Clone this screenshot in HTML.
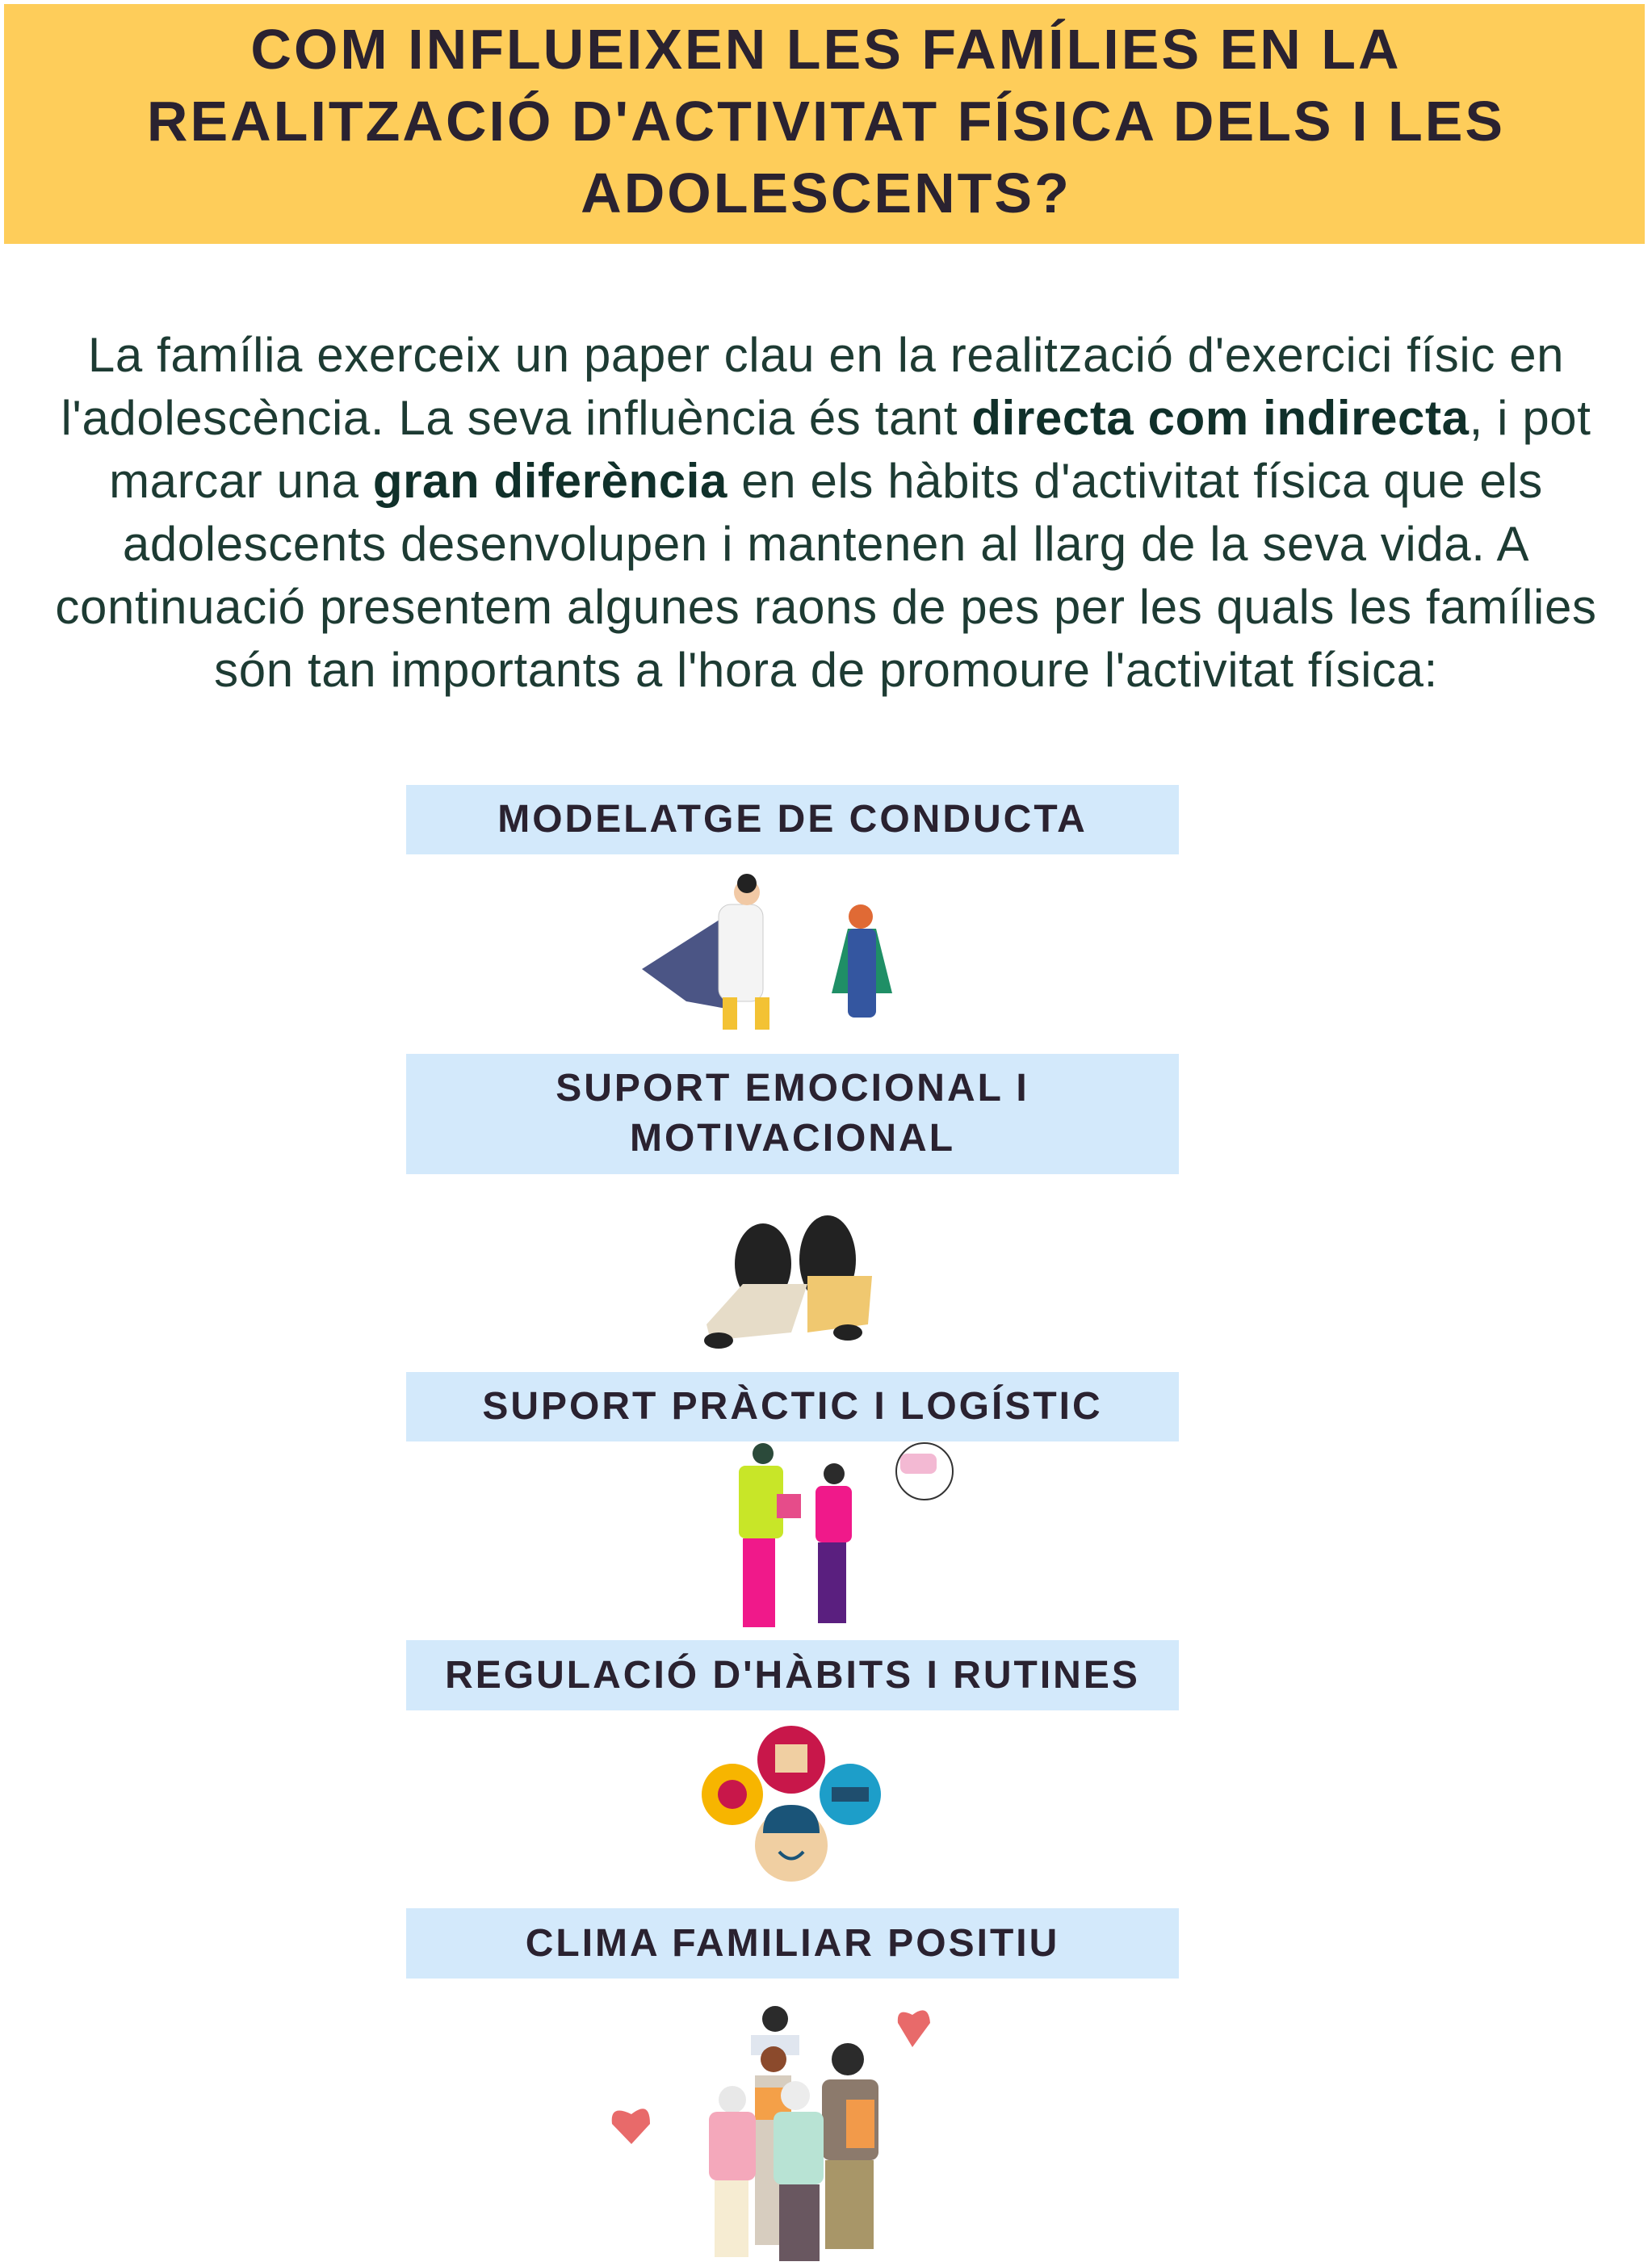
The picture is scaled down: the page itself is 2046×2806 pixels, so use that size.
<!DOCTYPE html>
<html><head><meta charset="utf-8"><style>
html,body{margin:0;padding:0;background:#fff;}
body{width:2046px;height:2806px;position:relative;overflow:hidden;font-family:"Liberation Sans",sans-serif;}
.hdr{position:absolute;left:5px;top:5px;width:2032px;height:297px;background:#fecd5a;}
.t{position:absolute;left:0;width:2046px;text-align:center;font-weight:bold;font-size:70px;color:#2a2230;letter-spacing:3px;}
.p{position:absolute;left:0;width:2046px;text-align:center;font-size:60px;color:#1d3b33;line-height:78px;top:401px;letter-spacing:0.6px;}
.p b{color:#10302a;}
.box{position:absolute;left:503px;width:957px;background:#d3e9fb;color:#2a2230;font-weight:bold;font-size:48px;text-align:center;letter-spacing:3px;}
svg{position:absolute;left:0;top:0;}
</style></head><body>
<div class="hdr"></div>
<div class="t" style="top:21px">COM INFLUEIXEN LES FAMÍLIES EN LA</div>
<div class="t" style="top:110px">REALITZACIÓ D'ACTIVITAT FÍSICA DELS I LES</div>
<div class="t" style="top:199px">ADOLESCENTS?</div>
<div class="p">La família exerceix un paper clau en la realització d'exercici físic en<br>l'adolescència. La seva influència és tant <b>directa com indirecta</b>, i pot<br>marcar una <b>gran diferència</b> en els hàbits d'activitat física que els<br>adolescents desenvolupen i mantenen al llarg de la seva vida. A<br>continuació presentem algunes raons de pes per les quals les famílies<br>són tan importants a l'hora de promoure l'activitat física:</div>
<div class="box" style="top:972px;height:86px;line-height:86px">MODELATGE DE CONDUCTA</div>
<div class="box" style="top:1305px;height:149px;line-height:62px;padding-top:12px;box-sizing:border-box">SUPORT EMOCIONAL I<br>MOTIVACIONAL</div>
<div class="box" style="top:1699px;height:86px;line-height:86px">SUPORT PRÀCTIC I LOGÍSTIC</div>
<div class="box" style="top:2031px;height:87px;line-height:87px">REGULACIÓ D'HÀBITS I RUTINES</div>
<div class="box" style="top:2363px;height:87px;line-height:87px">CLIMA FAMILIAR POSITIU</div>
<svg width="2046" height="2806">
<path d="M905 1130 L795 1200 L850 1240 L905 1250Z" fill="#4b5585"/>
<rect x="890" y="1120" width="55" height="120" rx="15" fill="#f4f4f4" stroke="#ccc"/>
<circle cx="925" cy="1105" r="16" fill="#f1c9a5"/><circle cx="925" cy="1094" r="12" fill="#222"/>
<rect x="895" y="1235" width="18" height="40" fill="#f3c234"/><rect x="935" y="1235" width="18" height="40" fill="#f3c234"/>
<path d="M1050 1150 L1030 1230 L1105 1230 L1085 1150Z" fill="#1f8f66"/>
<rect x="1050" y="1150" width="35" height="110" rx="8" fill="#3456a0"/>
<circle cx="1066" cy="1135" r="15" fill="#e06a35"/>
<ellipse cx="945" cy="1565" rx="35" ry="50" fill="#222"/><ellipse cx="1025" cy="1560" rx="35" ry="55" fill="#222"/>
<path d="M920 1590 L1000 1590 L980 1650 L880 1660 L875 1640Z" fill="#e6dcc8"/>
<path d="M1000 1580 L1080 1580 L1075 1640 L1000 1650Z" fill="#f0c870"/>
<ellipse cx="890" cy="1660" rx="18" ry="10" fill="#222"/><ellipse cx="1050" cy="1650" rx="18" ry="10" fill="#222"/>
<circle cx="945" cy="1800" r="13" fill="#2b4a3a"/>
<rect x="915" y="1815" width="55" height="90" rx="8" fill="#c8e628"/>
<rect x="920" y="1905" width="40" height="110" fill="#f0198a"/>
<circle cx="1033" cy="1825" r="13" fill="#2b2b2b"/>
<rect x="1010" y="1840" width="45" height="70" rx="8" fill="#f0198a"/>
<rect x="1013" y="1910" width="35" height="100" fill="#5a1f7f"/>
<rect x="962" y="1850" width="30" height="30" fill="#e64c8a"/>
<ellipse cx="1145" cy="1822" rx="35" ry="35" fill="#fff" stroke="#333" stroke-width="2"/>
<rect x="1115" y="1800" width="45" height="25" rx="8" fill="#f3b9d3"/>
<circle cx="907" cy="2222" r="38" fill="#f7b500"/><circle cx="907" cy="2222" r="18" fill="#c8174a"/>
<circle cx="980" cy="2179" r="42" fill="#c8174a"/><rect x="960" y="2160" width="40" height="35" fill="#f0cfa2"/>
<circle cx="1053" cy="2222" r="38" fill="#1d9ec9"/><rect x="1030" y="2213" width="46" height="18" fill="#1f4e6e"/>
<circle cx="980" cy="2285" r="45" fill="#f0cfa2"/>
<path d="M945 2270 Q945 2235 980 2235 Q1015 2235 1015 2270Z" fill="#1a5478"/>
<path d="M965 2293 Q980 2310 995 2293" stroke="#1a5478" stroke-width="4" fill="none"/>
<path d="M782 2655 L758 2630 Q755 2605 782 2618 Q805 2600 805 2630Z" fill="#e86a6a"/>
<path d="M1130 2535 L1112 2505 Q1110 2485 1130 2495 Q1150 2480 1152 2505Z" fill="#e86a6a"/>
<circle cx="960" cy="2500" r="16" fill="#2b2b2b"/>
<rect x="930" y="2520" width="60" height="25" fill="#e0e6ef"/>
<circle cx="958" cy="2550" r="16" fill="#8b4a2c"/>
<rect x="935" y="2570" width="45" height="210" fill="#d7cdbf"/><rect x="935" y="2585" width="45" height="40" fill="#f4a048"/>
<circle cx="907" cy="2600" r="17" fill="#e8e8e8"/>
<rect x="878" y="2615" width="58" height="85" rx="10" fill="#f4a8bb"/>
<rect x="885" y="2700" width="42" height="95" fill="#f6ecd2"/>
<circle cx="1050" cy="2550" r="20" fill="#2b2b2b"/>
<rect x="1018" y="2575" width="70" height="100" rx="10" fill="#8c7a6c"/>
<rect x="1022" y="2675" width="60" height="110" fill="#a89668"/>
<rect x="1048" y="2600" width="35" height="60" fill="#f29a4a"/>
<circle cx="985" cy="2595" r="18" fill="#ececec"/>
<rect x="958" y="2615" width="62" height="90" rx="10" fill="#b8e3d4"/>
<rect x="965" y="2705" width="50" height="95" fill="#695760"/>
</svg>
</body></html>
